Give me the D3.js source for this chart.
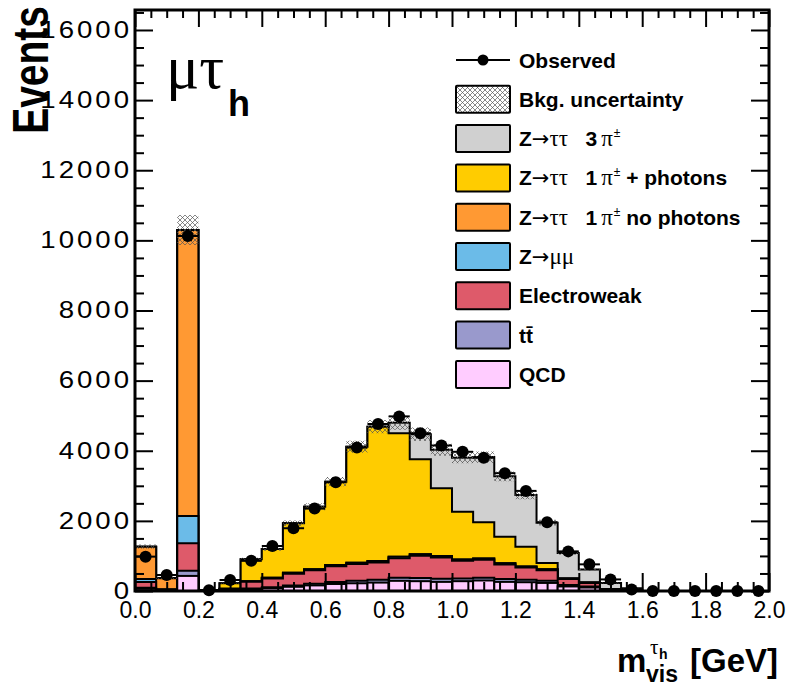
<!DOCTYPE html>
<html>
<head>
<meta charset="utf-8">
<script src="https://cdn.jsdelivr.net/npm/d3@7"></script>
<style>
  body { margin: 0; background: #fff; }
  svg { display: block; font-family: "Liberation Sans", Arial, Helvetica, sans-serif; }
</style>
</head>
<body>
<div id="chart"></div>
<script>
// 30 bins of width 1/15 GeV between 0 and 2 GeV
const nBins = 30;
const xMin = 0, xMax = 2;

// event counts per bin
const observed = [980, 456, 10125, 20, 314, 860, 1284, 1790, 2350, 3100, 4090, 4763, 4980, 4500, 4150,
                  3970, 3800, 3360, 2855, 1960, 1130, 760, 330, 40, 0, 0, 0, 0, 0, 0];
const qcd      = [60, 10, 430, 5, 30, 50, 80, 120, 160, 200, 220, 240, 290, 280, 260,
                  280, 300, 260, 250, 230, 130, 100, 30, 5, 0, 0, 0, 0, 0, 0];
const ttbar    = [30, 5, 150, 0, 10, 20, 30, 40, 50, 60, 70, 80, 90, 90, 90,
                  80, 80, 80, 70, 60, 40, 30, 10, 0, 0, 0, 0, 0, 0, 0];
const ewk      = [170, 25, 780, 5, 15, 195, 250, 335, 380, 447, 478, 495, 555, 635, 605,
                  500, 510, 415, 350, 305, 175, 100, 15, 5, 0, 0, 0, 0, 0, 0];
const zmumu    = [80, 10, 780, 0, 5, 15, 20, 25, 30, 35, 40, 40, 45, 45, 45,
                  40, 40, 35, 30, 25, 15, 10, 5, 0, 0, 0, 0, 0, 0, 0];
const ztt1pNoPhotons = [924, 312, 8157, 5, 10, 0, 0, 0, 0, 0, 0, 0, 0, 0, 0,
                        0, 0, 0, 0, 0, 0, 0, 0, 0, 0, 0, 0, 0, 0, 0];
const ztt1pPhotons   = [0, 0, 0, 0, 149, 625, 820, 1410, 1784, 2376, 3308, 3831, 3517, 2710, 1929,
                        1363, 1030, 759, 565, 180, 0, 0, 0, 0, 0, 0, 0, 0, 0, 0];
const ztt3p          = [0, 0, 0, 0, 0, 0, 0, 0, 0, 0, 0, 0, 303, 710, 1100,
                        1537, 1860, 1721, 1475, 1150, 725, 375, 170, 70, 0, 0, 0, 0, 0, 0];
const bkgUnc   = [60, 20, 430, 5, 15, 45, 55, 80, 100, 130, 170, 190, 200, 190, 170,
                  160, 160, 140, 120, 85, 50, 30, 15, 5, 0, 0, 0, 0, 0, 0];

const yTicks = [0, 2000, 4000, 6000, 8000, 10000, 12000, 14000, 16000];
const xTicks = [0, 0.2, 0.4, 0.6, 0.8, 1.0, 1.2, 1.4, 1.6, 1.8, 2.0];

// stack order, bottom first
const keys = ["qcd", "ttbar", "ewk", "zmumu", "noPhotons", "photons", "threeProng"];
const colors = {
  qcd: "#ffccff", ttbar: "#9999cc", ewk: "#de5a6a", zmumu: "#6bbbe8",
  noPhotons: "#ff9933", photons: "#ffcc00", threeProng: "#d0d0d0"
};

const w = 792, h = 691;
const pLeft = 135, pRight = 769, pTop = 10, pBottom = 591;
const serif = "'Liberation Serif', 'DejaVu Serif', serif";
const arrowFont = "'DejaVu Sans', sans-serif";

const svg = d3.select("#chart").append("svg")
  .attr("width", w).attr("height", h);

const defs = svg.append("defs");
const hatch = defs.append("pattern")
  .attr("id", "hatch").attr("patternUnits", "userSpaceOnUse")
  .attr("width", 5).attr("height", 5);
hatch.append("path").attr("d", "M0,0L5,5M5,0L0,5")
  .attr("stroke", "#555").attr("stroke-width", 0.7);

const x = d3.scaleLinear().domain([xMin, xMax]).range([pLeft, pRight]);
const y = d3.scaleLinear().domain([0, 16570]).range([pBottom, pTop]);

const binW = (xMax - xMin) / nBins;
const table = d3.range(nBins).map(i => ({
  lo: xMin + i * binW,
  qcd: qcd[i], ttbar: ttbar[i], ewk: ewk[i], zmumu: zmumu[i],
  noPhotons: ztt1pNoPhotons[i], photons: ztt1pPhotons[i], threeProng: ztt3p[i],
  obs: observed[i], unc: bkgUnc[i]
}));

const series = d3.stack().keys(keys)(table);

// step points: one per bin edge, last edge repeats last bin value
function stepPoints(vals) {
  const pts = table.map((d, i) => [d.lo, vals[i]]);
  pts.push([xMax, vals[nBins - 1]]);
  return pts;
}

const plot = svg.append("g");

// cumulative histograms drawn from the top of the stack down
series.slice().reverse().forEach(s => {
  if (s.key === "qcd") return;
  const tops = s.map(d => d[1]);
  const area = d3.area().curve(d3.curveStepAfter)
    .x(p => x(p[0])).y0(y(0)).y1(p => y(p[1]));
  plot.append("path")
    .attr("d", area(stepPoints(tops)))
    .attr("fill", colors[s.key])
    .attr("stroke", "#000")
    .attr("stroke-width", 2);
});

// QCD drawn as bars with outline
plot.selectAll("rect.qcd")
  .data(table.filter(d => d.qcd > 0))
  .enter().append("rect")
  .attr("class", "qcd")
  .attr("x", d => x(d.lo))
  .attr("width", d => x(d.lo + binW) - x(d.lo))
  .attr("y", d => y(d.qcd))
  .attr("height", d => y(0) - y(d.qcd))
  .attr("fill", colors.qcd)
  .attr("stroke", "#000")
  .attr("stroke-width", 2);

// background uncertainty band
const totals = series[series.length - 1].map(d => d[1]);
const band = d3.area().curve(d3.curveStepAfter)
  .x(p => x(p[0])).y0(p => y(p[1])).y1(p => y(p[2]));
const bandPts = table.map((d, i) => [d.lo, totals[i] - d.unc, totals[i] + d.unc]);
bandPts.push([xMax, totals[nBins - 1] - bkgUnc[nBins - 1], totals[nBins - 1] + bkgUnc[nBins - 1]]);
plot.append("path").attr("d", band(bandPts)).attr("fill", "url(#hatch)");

// observed points
const obs = plot.append("g");
obs.selectAll("line")
  .data(table).enter().append("line")
  .attr("x1", d => x(d.lo)).attr("x2", d => x(d.lo + binW))
  .attr("y1", d => y(d.obs)).attr("y2", d => y(d.obs))
  .attr("stroke", "#000").attr("stroke-width", 2);
obs.selectAll("circle")
  .data(table).enter().append("circle")
  .attr("cx", d => x(d.lo + binW / 2))
  .attr("cy", d => y(d.obs))
  .attr("r", 6)
  .attr("fill", "#000");

// axes with inward ticks
function styleAxis(g) {
  g.select(".domain").remove();
  g.selectAll(".tick line").attr("stroke", "#000").attr("stroke-width", 2);
  g.selectAll("text").attr("fill", "#000");
}
const yMinor = d3.range(0, 16501, 500).filter(v => v % 2000 !== 0);
const xMinor = d3.range(0, 41).map(i => i * 0.05).filter((v, i) => i % 4 !== 0);

// y labels are drawn wide in the original, so stretch them a little
svg.append("g").attr("transform", `translate(${pLeft},0)`)
  .call(d3.axisLeft(y).tickValues(yTicks).tickSizeInner(-18).tickSizeOuter(0).tickPadding(0)
    .tickFormat(d3.format("d")))
  .call(styleAxis)
  .selectAll("text")
  .attr("x", -2.5)
  .attr("transform", "scale(1.2,1)")
  .style("font-size", "23px").style("letter-spacing", "2.5px");
svg.append("g").attr("transform", `translate(${pLeft},0)`)
  .call(d3.axisLeft(y).tickValues(yMinor).tickSizeInner(-9).tickSizeOuter(0).tickFormat(""))
  .call(styleAxis);
svg.append("g").attr("transform", `translate(${pRight},0)`)
  .call(d3.axisRight(y).tickValues(yTicks).tickSizeInner(-18).tickSizeOuter(0).tickFormat(""))
  .call(styleAxis);
svg.append("g").attr("transform", `translate(${pRight},0)`)
  .call(d3.axisRight(y).tickValues(yMinor).tickSizeInner(-9).tickSizeOuter(0).tickFormat(""))
  .call(styleAxis);

svg.append("g").attr("transform", `translate(0,${pBottom})`)
  .call(d3.axisBottom(x).tickValues(xTicks).tickSizeInner(-18).tickSizeOuter(0).tickPadding(11)
    .tickFormat(d3.format(".1f")))
  .call(styleAxis)
  .selectAll("text").style("font-size", "23px");
svg.append("g").attr("transform", `translate(0,${pBottom})`)
  .call(d3.axisBottom(x).tickValues(xMinor).tickSizeInner(-9).tickSizeOuter(0).tickFormat(""))
  .call(styleAxis);
svg.append("g").attr("transform", `translate(0,${pTop})`)
  .call(d3.axisTop(x).tickValues(xTicks).tickSizeInner(-17).tickSizeOuter(0).tickFormat(""))
  .call(styleAxis);
svg.append("g").attr("transform", `translate(0,${pTop})`)
  .call(d3.axisTop(x).tickValues(xMinor).tickSizeInner(-8).tickSizeOuter(0).tickFormat(""))
  .call(styleAxis);

// frame
svg.append("rect")
  .attr("x", pLeft).attr("y", pTop)
  .attr("width", pRight - pLeft).attr("height", pBottom - pTop)
  .attr("fill", "none").attr("stroke", "#000").attr("stroke-width", 3);

// axis titles
svg.append("text")
  .attr("transform", "translate(48,6) rotate(-90) scale(1,1.3)")
  .attr("text-anchor", "end")
  .style("font-size", "39px").style("font-weight", "bold")
  .text("Events");

const xt = svg.append("g").attr("transform", "translate(617,672)");
xt.append("text").attr("x", 0).attr("y", 0)
  .style("font-size", "33px").style("font-weight", "bold").text("m");
xt.append("text").attr("x", 29).attr("y", 10)
  .style("font-size", "23px").style("font-weight", "bold").text("vis");
xt.append("text").attr("x", 73).attr("y", 0)
  .style("font-size", "33px").style("font-weight", "bold").text("[GeV]");
xt.append("text").attr("x", 33).attr("y", -18)
  .style("font-family", serif).style("font-size", "21px").text("τ");
xt.append("text").attr("x", 42).attr("y", -13)
  .style("font-size", "14px").style("font-weight", "bold").text("h");

// channel label
svg.append("text").attr("x", 166).attr("y", 88)
  .style("font-family", serif)
  .style("font-size", "62px").text("μτ");
svg.append("text").attr("x", 228).attr("y", 116)
  .style("font-size", "36px").style("font-weight", "bold").text("h");

// legend
const legendItems = [
  { kind: "obs", parts: [["Observed"]] },
  { kind: "unc", parts: [["Bkg. uncertainty"]] },
  { kind: "threeProng", parts: [["Z"], ["→", arrowFont], ["ττ", serif], ["   3"], ["π", serif, 4], ["±", "sup"]] },
  { kind: "photons", parts: [["Z"], ["→", arrowFont], ["ττ", serif], ["   1"], ["π", serif, 4], ["±", "sup"], [" + photons"]] },
  { kind: "noPhotons", parts: [["Z"], ["→", arrowFont], ["ττ", serif], ["   1"], ["π", serif, 4], ["±", "sup"], [" no photons"]] },
  { kind: "zmumu", parts: [["Z"], ["→", arrowFont], ["μμ", serif]] },
  { kind: "ewk", parts: [["Electroweak"]] },
  { kind: "ttbar", parts: [["tt\u0304"]] },
  { kind: "qcd", parts: [["QCD"]] }
];
const legend = svg.append("g");
legendItems.forEach((item, i) => {
  const cy = 60 + i * 39.3;
  const g = legend.append("g");
  if (item.kind === "obs") {
    g.append("line").attr("x1", 456).attr("x2", 510).attr("y1", cy).attr("y2", cy)
      .attr("stroke", "#000").attr("stroke-width", 2);
    g.append("circle").attr("cx", 483).attr("cy", cy).attr("r", 5.5).attr("fill", "#000");
  } else {
    g.append("rect").attr("x", 456).attr("y", cy - 13.5).attr("width", 54).attr("height", 27)
      .attr("fill", item.kind === "unc" ? "url(#hatch)" : colors[item.kind])
      .attr("stroke", "#000").attr("stroke-width", 2).attr("rx", 1);
  }
  const t = g.append("text").attr("x", 519).attr("y", cy + 7.5)
    .style("font-size", "21px").style("font-weight", "bold")
    .style("white-space", "pre").attr("xml:space", "preserve");
  let pendingDy = 0;
  item.parts.forEach(p => {
    const ts = t.append("tspan").text(p[0]);
    if (p[1] === "sup") {
      ts.attr("dx", 1).attr("dy", -9).style("font-size", "12px").style("font-weight", "normal");
      pendingDy = 9;
      return;
    }
    if (pendingDy) { ts.attr("dy", pendingDy); pendingDy = 0; }
    if (p[2]) ts.attr("dx", p[2]);
    if (p[1] === arrowFont) {
      ts.style("font-family", p[1]).style("font-weight", "normal").style("font-size", "21px");
    } else if (p[1]) {
      ts.style("font-family", p[1]).style("font-weight", "normal").style("font-size", "23px");
    }
  });
});
</script>
</body>
</html>
